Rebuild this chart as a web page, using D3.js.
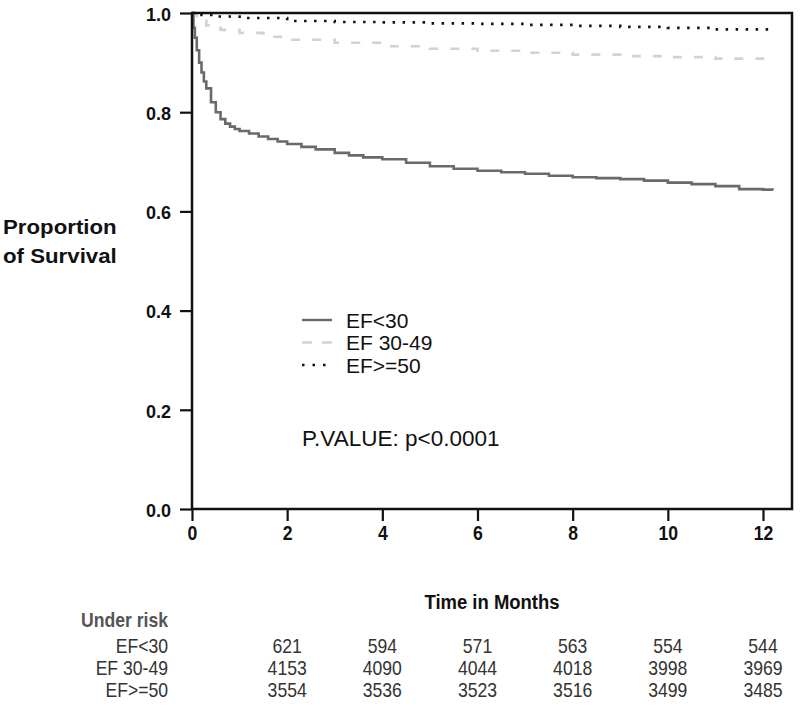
<!DOCTYPE html>
<html>
<head>
<meta charset="utf-8">
<script src="https://cdn.jsdelivr.net/npm/d3@7"></script>
<style>
  html, body { margin: 0; padding: 0; background: #fff; }
  svg { display: block; }
</style>
</head>
<body>
<svg id="chart" width="800" height="707"></svg>
<script>
// ---- Data ----
const seriesNames = ["EF<30", "EF 30-49", "EF>=50"];

const monthsEF30 = [0, 0.03, 0.06, 0.1, 0.15, 0.2, 0.25, 0.3, 0.4, 0.5, 0.6, 0.7, 0.8, 0.9, 1.0, 1.2, 1.4, 1.6, 1.8, 2.0, 2.3, 2.6, 3.0, 3.3, 3.6, 4.0, 4.5, 5.0, 5.5, 6.0, 6.5, 7.0, 7.5, 8.0, 8.5, 9.0, 9.5, 10.0, 10.5, 11.0, 11.5, 12.0, 12.2];
const survEF30  = [1.0, 0.97, 0.95, 0.925, 0.9, 0.88, 0.862, 0.848, 0.82, 0.8, 0.786, 0.777, 0.771, 0.766, 0.762, 0.757, 0.751, 0.746, 0.741, 0.736, 0.73, 0.725, 0.718, 0.713, 0.709, 0.705, 0.698, 0.691, 0.686, 0.682, 0.679, 0.676, 0.672, 0.669, 0.667, 0.665, 0.662, 0.658, 0.655, 0.651, 0.645, 0.644, 0.642];

const monthsEF3049 = [0, 0.1, 0.3, 0.6, 1, 1.5, 2, 3, 4, 5, 6, 7, 8, 9, 10, 11, 12.2];
const survEF3049  = [1.0, 0.985, 0.975, 0.966, 0.96, 0.952, 0.946, 0.94, 0.933, 0.928, 0.924, 0.92, 0.916, 0.913, 0.911, 0.908, 0.904];

const monthsEF50 = [0, 0.2, 0.5, 1, 2, 3, 4, 5, 6, 7, 8, 9, 10, 11, 12.2];
const survEF50  = [1.0, 0.996, 0.993, 0.99, 0.984, 0.982, 0.981, 0.979, 0.978, 0.976, 0.974, 0.972, 0.97, 0.967, 0.963];

const xTicks = [0, 2, 4, 6, 8, 10, 12];
const yTicks = [0.0, 0.2, 0.4, 0.6, 0.8, 1.0];

const riskTimes = [2, 4, 6, 8, 10, 12];
const riskEF30   = [621, 594, 571, 563, 554, 544];
const riskEF3049 = [4153, 4090, 4044, 4018, 3998, 3969];
const riskEF50   = [3554, 3536, 3523, 3516, 3499, 3485];

const pValueText = "P.VALUE: p<0.0001";

// ---- Layout ----
const svg = d3.select("#chart");
const box = { left: 192, right: 792, top: 13, bottom: 509 };

const x = d3.scaleLinear().domain([0, 12]).range([192, 763]);
const y = d3.scaleLinear().domain([0, 1]).range([box.bottom, box.top]);

const FONT = "'Liberation Sans', Arial, Helvetica, sans-serif";
const NARROW = 0.88;

function label(sel, tx, ty, txt, opts) {
  const t = sel.append("text")
    .attr("transform", `translate(${tx},${ty}) scale(${opts.sx || 1},1)`)
    .attr("text-anchor", opts.anchor || "start")
    .attr("font-family", FONT)
    .attr("font-size", opts.size)
    .attr("font-weight", opts.weight || "normal")
    .attr("fill", opts.fill || "#111")
    .text(txt);
  return t;
}

// ---- Curves ----
const styles = [
  { stroke: "#6a6a6a", width: 2.6, dash: null },
  { stroke: "#d2d2d2", width: 2.6, dash: "9,12" },
  { stroke: "#111111", width: 2.6, dash: "2.5,7.5" }
];
const series = [
  monthsEF30.map((m, i) => [m, survEF30[i]]),
  monthsEF3049.map((m, i) => [m, survEF3049[i]]),
  monthsEF50.map((m, i) => [m, survEF50[i]])
];
const line = d3.line().x(d => x(d[0])).y(d => y(d[1])).curve(d3.curveStepAfter);

const gCurves = svg.append("g");
[2, 1, 0].forEach(i => {
  gCurves.append("path")
    .datum(series[i])
    .attr("d", line)
    .attr("fill", "none")
    .attr("stroke", styles[i].stroke)
    .attr("stroke-width", styles[i].width)
    .attr("stroke-dasharray", styles[i].dash);
});

// ---- Box ----
svg.append("rect")
  .attr("x", box.left).attr("y", box.top)
  .attr("width", box.right - box.left).attr("height", box.bottom - box.top)
  .attr("fill", "none").attr("stroke", "#111").attr("stroke-width", 2.5);

// ---- Axes ----
const xAxis = d3.axisBottom(x).tickValues(xTicks).tickSize(12).tickPadding(5).tickFormat(d3.format("d"));
const gx = svg.append("g").attr("transform", `translate(0,${box.bottom})`).call(xAxis);
gx.select(".domain").remove();
gx.selectAll(".tick line").attr("stroke", "#111").attr("stroke-width", 2.2);
gx.selectAll(".tick text").attr("font-family", FONT).attr("font-size", 20).attr("font-weight", "bold")
  .attr("fill", "#111").attr("transform", `scale(${NARROW},1)`);

const yAxis = d3.axisLeft(y).tickValues(yTicks).tickSize(12).tickPadding(9).tickFormat(d3.format(".1f"));
const gy = svg.append("g").attr("transform", `translate(${box.left},0)`).call(yAxis);
gy.select(".domain").remove();
gy.selectAll(".tick line").attr("stroke", "#111").attr("stroke-width", 2.2);
gy.selectAll(".tick text").attr("font-family", FONT).attr("font-size", 18).attr("font-weight", "bold").attr("fill", "#111").attr("dy", "0.4em");

// ---- Axis titles ----
label(svg, 3, 234, "Proportion", { size: 21, weight: "bold", sx: 1.06 });
label(svg, 3, 263, "of Survival", { size: 21, weight: "bold", sx: 1.06 });
label(svg, 492, 609, "Time in Months", { size: 21, weight: "bold", sx: NARROW, anchor: "middle" });

// ---- Legend ----
const legend = svg.append("g");
seriesNames.forEach((name, i) => {
  const ly = 320 + i * 22.5;
  legend.append("line")
    .attr("x1", 302).attr("x2", 332).attr("y1", ly).attr("y2", ly)
    .attr("stroke", styles[i].stroke).attr("stroke-width", 2.4)
    .attr("stroke-dasharray", i === 1 ? "10,10" : (i === 2 ? "2.5,8" : null));
  label(legend, 346, ly + 7.5, name, { size: 21 });
});

label(svg, 302, 446, pValueText, { size: 22.5 });

// ---- Risk table ----
label(svg, 168, 627, "Under risk", { size: 20, weight: "bold", fill: "#555", anchor: "end", sx: NARROW });
const riskRows = [riskEF30, riskEF3049, riskEF50];
riskRows.forEach((row, r) => {
  const ry = 653 + r * 22;
  label(svg, 168, ry, seriesNames[r], { size: 20, fill: "#333", anchor: "end", sx: NARROW });
  row.forEach((v, j) => {
    label(svg, x(riskTimes[j]), ry, v, { size: 20, fill: "#333", anchor: "middle", sx: NARROW });
  });
});
</script>
</body>
</html>
